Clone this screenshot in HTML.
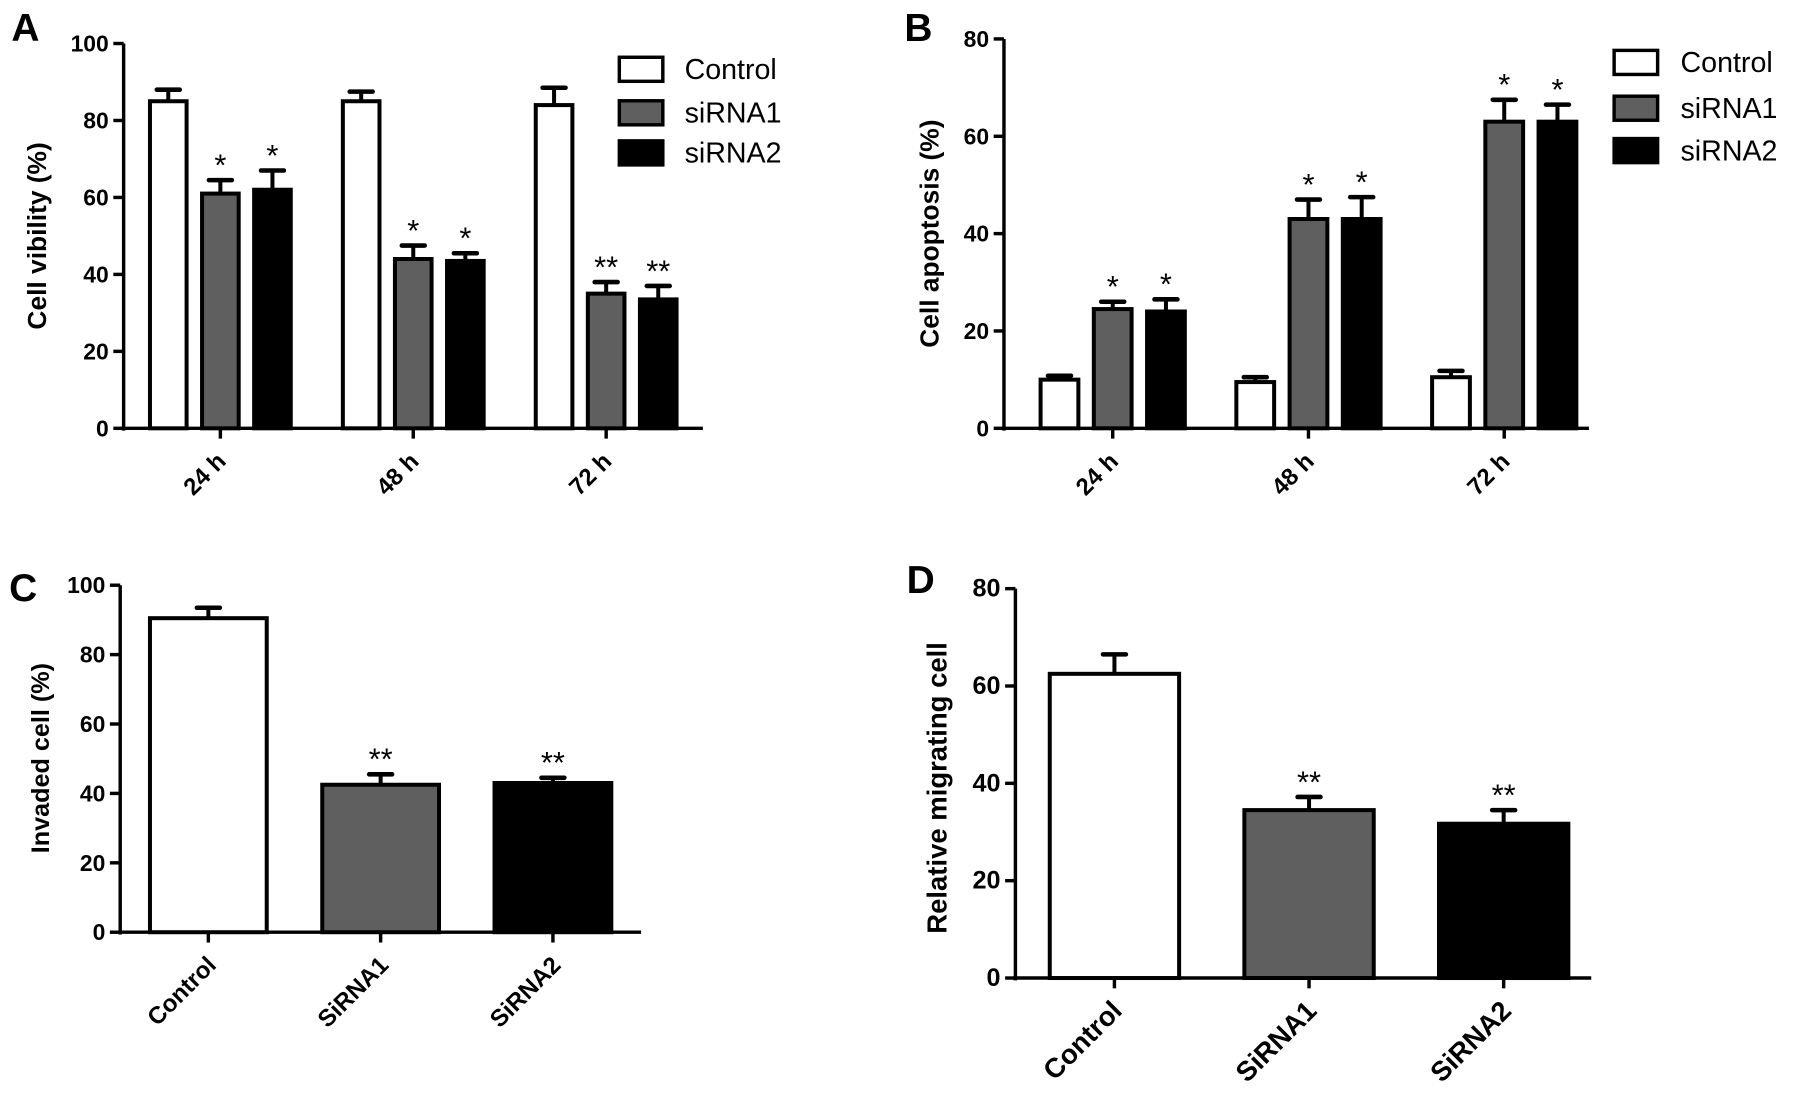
<!DOCTYPE html>
<html><head><meta charset="utf-8"><style>
html,body{margin:0;padding:0;background:#fff;}
svg{display:block;font-family:"Liberation Sans",Arial,sans-serif;}
</style></head><body>
<svg id="chart" width="1795" height="1104" viewBox="0 0 1568 964" preserveAspectRatio="none" xmlns="http://www.w3.org/2000/svg"></svg>
<script>
// Panel A data
const aCategories = ["24 h", "48 h", "72 h"];
const aSeries = ["Control", "siRNA1", "siRNA2"];
const aControl = [85, 85, 84];
const aSiRNA1 = [61, 44, 35];
const aSiRNA2 = [62, 43.5, 33.5];
const aControlErr = [88, 87.5, 88.5];
const aSiRNA1Err = [64.5, 47.5, 38];
const aSiRNA2Err = [67, 45.5, 37];
const aStars = [["", "*", "*"], ["", "*", "*"], ["", "**", "**"]];
const aTicks = [0, 20, 40, 60, 80, 100];
// Panel B data
const bCategories = ["24 h", "48 h", "72 h"];
const bControl = [10, 9.5, 10.5];
const bSiRNA1 = [24.5, 43, 63];
const bSiRNA2 = [24, 43, 63];
const bControlErr = [10.8, 10.5, 11.8];
const bSiRNA1Err = [26, 47, 67.5];
const bSiRNA2Err = [26.5, 47.5, 66.5];
const bStars = [["", "*", "*"], ["", "*", "*"], ["", "*", "*"]];
const bTicks = [0, 20, 40, 60, 80];
// Panel C data
const cCategories = ["Control", "SiRNA1", "SiRNA2"];
const cValues = [90.5, 42.5, 43];
const cErr = [93.5, 45.5, 44.5];
const cStars = ["", "**", "**"];
const cTicks = [0, 20, 40, 60, 80, 100];
// Panel D data
const dCategories = ["Control", "SiRNA1", "SiRNA2"];
const dValues = [62.5, 34.5, 31.7];
const dErr = [66.5, 37.2, 34.5];
const dStars = ["", "**", "**"];
const dTicks = [0, 20, 40, 60, 80];

const fills = ["#fff", "#5f5f5f", "#000"];
const svg = document.getElementById('chart');
const NS = "http://www.w3.org/2000/svg";
function mk(tag, attrs, parent) {
  const e = document.createElementNS(NS, tag);
  for (const k in attrs) e.setAttribute(k, attrs[k]);
  (parent || svg).appendChild(e);
  return e;
}
function txt(s, attrs, parent) { const t = mk('text', attrs, parent); t.textContent = s; return t; }

function axes(g, ax, y0, yTop, xEnd, ticks, max, title, titleX, titleY, fs, tfs) {
  const ys = v => y0 - (y0 - yTop) * v / max;
  const yl = mk('line', {x1: ax, y1: y0 + 2, x2: ax, y2: yTop, stroke: '#000', 'stroke-width': 3}, g);
  
  
  const xl = mk('line', {x1: ax - 2, y1: y0, x2: xEnd, y2: y0, stroke: '#000', 'stroke-width': 3}, g);
  
  
  ticks.forEach(t => {
    mk('line', {x1: ax - 9, y1: ys(t), x2: ax, y2: ys(t), stroke: '#000', 'stroke-width': 3}, g);
    const tl = txt(String(t), {x: ax - 13, y: ys(t) + 7, 'text-anchor': 'end', 'font-size': tfs, 'font-weight': 'bold'}, g);
    
    
  });
  const tt = txt(title, {x: titleX, y: titleY, 'text-anchor': 'middle', 'font-size': fs, 'font-weight': 'bold', transform: `rotate(-90 ${titleX} ${titleY})`}, g);
  
  
  return ys;
}
function bar(g, x, w, v, e, ys, y0, fill, star, name) {
  mk('line', {x1: x + w / 2, y1: ys(v), x2: x + w / 2, y2: ys(e), stroke: '#000', 'stroke-width': 3.5}, g);
  mk('line', {x1: x + w / 2 - 10, y1: ys(e), x2: x + w / 2 + 10, y2: ys(e), stroke: '#000', 'stroke-width': 4, 'stroke-linecap': 'round'}, g);
  const r = mk('rect', {x: x, y: ys(v), width: w, height: y0 - ys(v), fill: fill, stroke: '#000', 'stroke-width': 3.5}, g);
  
  
  if (star) {
    const s = txt(star, {x: x + w / 2, y: ys(e) - 4, 'text-anchor': 'middle', 'font-size': 27}, g);
    
    
  }
}
function letter(s, x, y) {
  const t = txt(s, {x: x, y: y, 'font-size': 34, 'font-weight': 'bold'});
  
  
}
function legend(g, bx, ys0, tx) {
  aSeries.forEach((s, i) => {
    const r = mk('rect', {x: bx, y: ys0[i], width: 38, height: 21, fill: fills[i], stroke: '#000', 'stroke-width': 3}, g);
    
    
    const t = txt(s, {x: tx, y: ys0[i] + 19, 'font-size': 25}, g);
    
    
  });
}
function grouped(name, ax, y0, yTop, xEnd, ticks, max, title, tx, ty, cats, vals, errs, stars, firstX, gap, step, bw, legX, legYs, legTX) {
  const g = mk('g', {});
  
  
  const ys = axes(g, ax, y0, yTop, xEnd, ticks, max, title, tx, ty, 23, 20);
  cats.forEach((c, ci) => {
    for (let si = 0; si < 3; si++) {
      const x = firstX + ci * gap + si * step;
      bar(g, x, bw, vals[si][ci], errs[si][ci], ys, y0, fills[si], stars[ci][si], 'bar-' + c.replace(' ', '') + '-' + aSeries[si].toLowerCase());
    }
    const cx = firstX + ci * gap + step + bw / 2;
    mk('line', {x1: cx, y1: y0, x2: cx, y2: y0 + 9, stroke: '#000', 'stroke-width': 3}, g);
    const l = txt(c, {x: cx + 6, y: y0 + 30, 'text-anchor': 'end', 'font-size': 21, 'font-weight': 'bold', transform: `rotate(-45 ${cx + 6} ${y0 + 30})`}, g);
    
    
  });
  legend(g, legX, legYs, legTX);
}
function simple(name, ax, y0, yTop, xEnd, ticks, max, title, tx, ty, cats, vals, errs, stars, xs, bw, tfs, lfs, titfs) {
  const g = mk('g', {});
  
  
  const ys = axes(g, ax, y0, yTop, xEnd, ticks, max, title, tx, ty, titfs, tfs);
  cats.forEach((c, i) => {
    const x = xs[0] + i * (xs[1] - xs[0]);
    bar(g, x, bw, vals[i], errs[i], ys, y0, fills[i], stars[i], 'bar-' + c.toLowerCase());
    const cx = x + bw / 2;
    mk('line', {x1: cx, y1: y0, x2: cx, y2: y0 + 9, stroke: '#000', 'stroke-width': 3}, g);
    const l = txt(c, {x: cx + 8, y: y0 + 30, 'text-anchor': 'end', 'font-size': lfs, 'font-weight': 'bold', transform: `rotate(-45 ${cx + 8} ${y0 + 30})`}, g);
    
    
  });
}
grouped('panel-a', 108, 374, 38, 614, aTicks, 100, 'Cell vibility (%)', 40, 206, aCategories,
  [aControl, aSiRNA1, aSiRNA2], [aControlErr, aSiRNA1Err, aSiRNA2Err], aStars, 131, 168.5, 45.5, 32,
  541, [50, 88, 123], 598);
grouped('panel-b', 877, 374, 34, 1388, bTicks, 80, 'Cell apoptosis (%)', 820, 204, bCategories,
  [bControl, bSiRNA1, bSiRNA2], [bControlErr, bSiRNA1Err, bSiRNA2Err], bStars, 909, 171, 46.5, 33,
  1410, [44, 84, 121], 1468);
simple('panel-c', 105, 814, 511, 560, cTicks, 100, 'Invaded cell (%)', 43, 662, cCategories, cValues, cErr, cStars, [131, 281.5], 102, 20, 21, 22);
simple('panel-d', 887, 854, 514, 1390, dTicks, 80, 'Relative migrating cell', 827, 688, dCategories, dValues, dErr, dStars, [917, 1087], 113, 22, 24, 24);
letter('A', 10, 36); letter('B', 790, 36); letter('C', 8, 525); letter('D', 792, 518);
</script>
</body></html>
